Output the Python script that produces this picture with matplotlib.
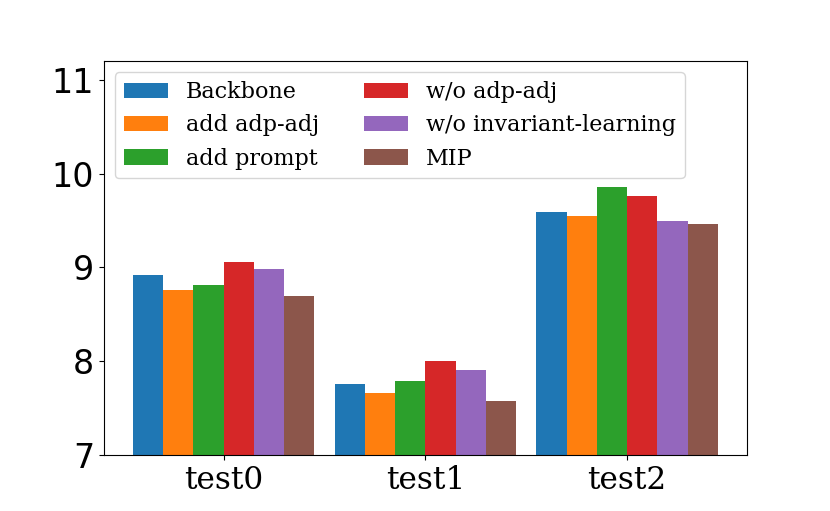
import matplotlib
matplotlib.use('Agg')
import matplotlib.pyplot as plt
import numpy as np

groups = ['test0', 'test1', 'test2']
methods = ['Backbone', 'add adp-adj', 'add prompt', 'w/o adp-adj', 'w/o invariant-learning', 'MIP']

backbone = [8.92, 7.76, 9.59]
add_adp_adj = [8.76, 7.66, 9.55]
add_prompt = [8.81, 7.79, 9.86]
wo_adp_adj = [9.06, 8.00, 9.76]
wo_invariant = [8.98, 7.90, 9.50]
mip = [8.69, 7.57, 9.46]

series = [backbone, add_adp_adj, add_prompt, wo_adp_adj, wo_invariant, mip]

fig, ax = plt.subplots(figsize=(8.3, 5.11), dpi=100)
x = np.arange(len(groups))
width = 0.15
for i, (name, vals) in enumerate(zip(methods, series)):
    ax.bar(x + (i - 2.5) * width, vals, width, label=name)

ax.set_ylim(7, 11.2)
ax.set_yticks([7, 8, 9, 10, 11])
ax.tick_params(axis='y', labelsize=24)
ax.set_xticks(x)
ax.set_xticklabels(groups, family='DejaVu Serif', fontsize=22.5)
ax.legend(ncol=2, loc='upper left', prop={'family': 'DejaVu Serif', 'size': 16})

plt.savefig('out.png', dpi=100)
